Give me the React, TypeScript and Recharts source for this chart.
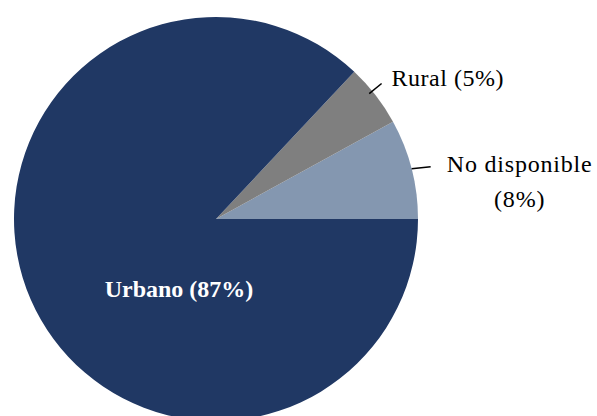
import { PieChart, Pie, Cell } from "recharts";

const categories = ["No disponible", "Rural", "Urbano"];
const shares = [8, 5, 87];
const colors = ["#8497B0", "#7F7F7F", "#203864"];

const data = categories.map((name, i) => ({ name, value: shares[i] }));

const RADIAN = Math.PI / 180;
const FONT = "'Liberation Serif', serif";

function polar(cx: number, cy: number, r: number, angle: number) {
  return { x: cx + r * Math.cos(-angle * RADIAN), y: cy + r * Math.sin(-angle * RADIAN) };
}

function renderLabel(props: any) {
  const { cx, cy, midAngle, outerRadius, name, value } = props;
  const text = `${name} (${value}%)`;

  if (name === "Urbano") {
    return (
      <text x={cx - 37} y={cy + 78} fill="#ffffff" fontFamily={FONT} fontSize={24} fontWeight="bold" textAnchor="middle">
        {text}
      </text>
    );
  }

  if (name === "Rural") {
    const a = polar(cx, cy, outerRadius - 4, midAngle + 1.5);
    const b = polar(cx, cy, outerRadius + 12, midAngle + 1.5);
    return (
      <g>
        <line x1={a.x} y1={a.y} x2={b.x} y2={b.y} stroke="#000" strokeWidth={1.5} />
        <text x={b.x + 10} y={b.y + 3} fill="#000" fontFamily={FONT} fontSize={24} letterSpacing={0.5}>
          {text}
        </text>
      </g>
    );
  }

  const a = polar(cx, cy, outerRadius, midAngle);
  const b = { x: a.x + 19, y: a.y - 2 };
  return (
    <g>
      <line x1={a.x} y1={a.y} x2={b.x} y2={b.y} stroke="#000" strokeWidth={1.5} />
      <text x={b.x + 89} y={b.y + 5} fill="#000" fontFamily={FONT} fontSize={24} letterSpacing={0.8} textAnchor="middle">
        {name}
      </text>
      <text x={b.x + 89} y={b.y + 40} fill="#000" fontFamily={FONT} fontSize={24} letterSpacing={0.8} textAnchor="middle">
        ({value}%)
      </text>
    </g>
  );
}

export default function App() {
  return (
    <div style={{ position: "absolute", left: 0, top: 0, width: 597, height: 416, background: "#fff" }}>
      <PieChart width={597} height={416} margin={{ top: 0, right: 0, bottom: 0, left: 0 }}>
        <Pie
          data={data}
          dataKey="value"
          nameKey="name"
          cx={216}
          cy={219}
          outerRadius={202}
          startAngle={0}
          endAngle={360}
          stroke="none"
          label={renderLabel}
          labelLine={false}
          isAnimationActive={false}
        >
          {data.map((d, i) => (
            <Cell key={d.name} fill={colors[i]} />
          ))}
        </Pie>
      </PieChart>
    </div>
  );
}
